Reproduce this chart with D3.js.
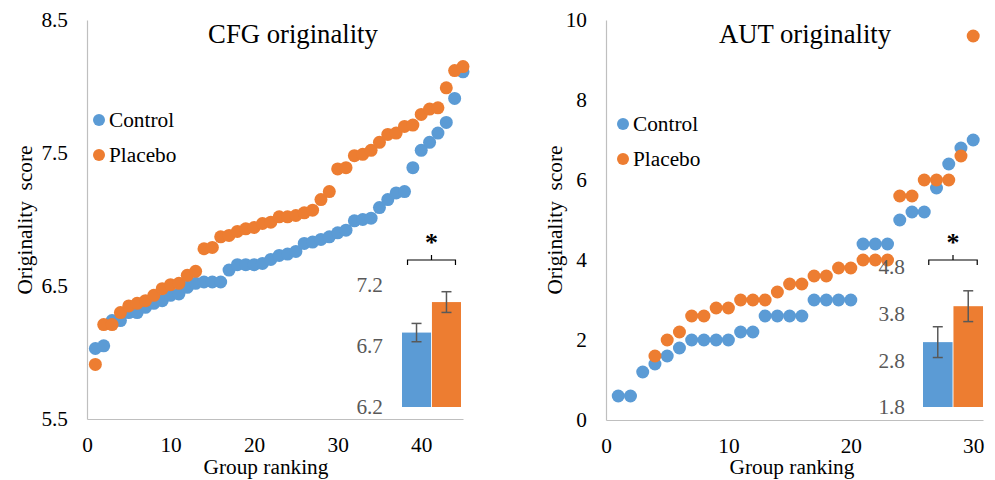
<!DOCTYPE html>
<html>
<head>
<meta charset="utf-8">
<script src="https://cdn.jsdelivr.net/npm/d3@7"></script>
<style>
  body { margin: 0; background: #fff; }
  text { font-family: "Liberation Serif", "Times New Roman", serif; }
</style>
</head>
<body>
<div id="root"></div>
<script>
// ---- data ----
var cfgRanks = [1,2,3,4,5,6,7,8,9,10,11,12,13,14,15,16,17,18,19,20,21,22,23,24,25,
  26,27,28,29,30,31,32,33,34,35,36,37,38,39,40,41,42,43,44,45];
var cfgControl = [6.03,6.05,6.24,6.24,6.30,6.30,6.34,6.37,6.39,6.43,6.44,6.49,6.52,6.53,6.53,
  6.53,6.62,6.66,6.66,6.66,6.67,6.70,6.73,6.74,6.76,6.82,6.83,6.85,6.87,6.90,
  6.92,6.99,7.00,7.01,7.09,7.15,7.20,7.21,7.39,7.52,7.58,7.65,7.73,7.91,8.11];
var cfgPlacebo = [5.91,6.21,6.21,6.30,6.35,6.37,6.39,6.43,6.48,6.51,6.52,6.58,6.61,6.78,6.79,
  6.87,6.88,6.91,6.93,6.94,6.97,6.98,7.02,7.02,7.03,7.05,7.07,7.15,7.21,7.38,
  7.39,7.48,7.49,7.52,7.58,7.64,7.65,7.70,7.71,7.79,7.83,7.84,7.99,8.12,8.15];

var autControlRanks = [1,2,3,4,5,6,7,8,9,10,11,12,13,14,15,16,17,18,19,20,21,22,23,24,25,26,27,28,29,30];
var autControl = [0.6,0.6,1.2,1.4,1.6,1.8,2.0,2.0,2.0,2.0,2.2,2.2,2.6,2.6,2.6,2.6,3.0,3.0,3.0,3.0,
  4.4,4.4,4.4,5.0,5.2,5.2,5.8,6.4,6.8,7.0];
var autPlaceboRanks = [4,5,6,7,8,9,10,11,12,13,14,15,16,17,18,19,20,21,22,23,24,25,26,27,28,29,30];
var autPlacebo = [1.6,2.0,2.2,2.6,2.6,2.8,2.8,3.0,3.0,3.0,3.2,3.4,3.4,3.6,3.6,3.8,3.8,4.0,4.0,4.0,
  5.6,5.6,6.0,6.0,6.0,6.6,9.6];

var groups = ["Control", "Placebo"];
var cfgMeans = [6.81, 7.06];
var cfgErr = [0.075, 0.085];
var autMeans = [3.19, 3.96];
var autErr = [0.33, 0.33];

var cfgYTicks = [5.5, 6.5, 7.5, 8.5];
var cfgXTicks = [0, 10, 20, 30, 40];
var cfgInsetTicks = [6.2, 6.7, 7.2];
var autYTicks = [0, 2, 4, 6, 8, 10];
var autXTicks = [0, 10, 20, 30];
var autInsetTicks = [1.8, 2.8, 3.8, 4.8];

var colors = { Control: "#5B9BD5", Placebo: "#ED7D31" };
var fontSize = "21.3px";

var svg = d3.select("#root")
  .append("svg")
  .attr("width", 995)
  .attr("height", 480);

drawPanel({
  title: "CFG originality", titleX: 293,
  left: 87, right: 463, top: 20, bottom: 419,
  xDomain: [0, 45], yDomain: [5.5, 8.5],
  xTicks: cfgXTicks, yTicks: cfgYTicks, yFormat: d3.format(".1f"),
  yTitleX: 25, xTitleX: 266,
  legendX: 99, legendY: 120,
  series: [
    { name: "Control", x: cfgRanks, y: cfgControl },
    { name: "Placebo", x: cfgRanks, y: cfgPlacebo }
  ],
  inset: { x0: 402, x1: 461, y0: 407, y1: 285, domain: [6.2, 7.2], ticks: cfgInsetTicks,
           labelX: 383, means: cfgMeans, err: cfgErr }
});

drawPanel({
  title: "AUT originality", titleX: 805,
  left: 606, right: 983, top: 20, bottom: 420,
  xDomain: [0, 30.8], yDomain: [0, 10],
  xTicks: autXTicks, yTicks: autYTicks, yFormat: d3.format("d"),
  yTitleX: 555, xTitleX: 792,
  legendX: 623, legendY: 124,
  series: [
    { name: "Control", x: autControlRanks, y: autControl },
    { name: "Placebo", x: autPlaceboRanks, y: autPlacebo }
  ],
  inset: { x0: 923, x1: 983, y0: 407, y1: 267, domain: [1.8, 4.8], ticks: autInsetTicks,
           labelX: 905, means: autMeans, err: autErr }
});

function drawPanel(p)
{
  var x = d3.scaleLinear().domain(p.xDomain).range([p.left, p.right]);
  var y = d3.scaleLinear().domain(p.yDomain).range([p.bottom, p.top]);

  var g = svg.append("g");

  // axes (Excel style: light grey lines, no tick marks)
  var yAxis = g.append("g")
    .attr("transform", "translate(" + p.left + ",0)")
    .call(d3.axisLeft(y).tickValues(p.yTicks).tickSize(0).tickPadding(19).tickFormat(p.yFormat));
  var xAxis = g.append("g")
    .attr("transform", "translate(0," + p.bottom + ")")
    .call(d3.axisBottom(x).tickValues(p.xTicks).tickSize(0).tickPadding(18));
  [yAxis, xAxis].forEach(function (a)
  {
    a.select(".domain").attr("stroke", "#bfbfbf").attr("stroke-width", 1.2);
    a.selectAll("text").attr("fill", "#000").style("font-size", fontSize)
      .style("font-family", "'Liberation Serif', serif");
  });

  // titles
  g.append("text")
    .attr("x", p.titleX).attr("y", 43)
    .style("text-anchor", "middle").style("font-size", "26.7px")
    .text(p.title);

  g.append("text")
    .attr("transform", "rotate(-90)")
    .attr("x", -220).attr("y", p.yTitleX)
    .attr("dy", "0.35em")
    .style("text-anchor", "middle").style("font-size", fontSize)
    .attr("xml:space", "preserve")
    .text("Originality  score");

  g.append("text")
    .attr("x", p.xTitleX).attr("y", 474)
    .style("text-anchor", "middle").style("font-size", fontSize)
    .text("Group ranking");

  // scatter points (placebo drawn on top)
  p.series.forEach(function (s)
  {
    g.append("g").selectAll("circle")
      .data(s.y)
      .join("circle")
      .attr("cx", function (d, i) { return x(s.x[i]); })
      .attr("cy", function (d) { return y(d); })
      .attr("r", 6.5)
      .attr("fill", colors[s.name]);
  });

  // legend
  groups.forEach(function (name, i)
  {
    var ly = p.legendY + i * 35;
    g.append("circle").attr("cx", p.legendX).attr("cy", ly).attr("r", 6).attr("fill", colors[name]);
    g.append("text").attr("x", p.legendX + 10).attr("y", ly)
      .attr("dy", "0.35em").style("font-size", fontSize).text(name);
  });

  // inset bar chart
  var ins = p.inset;
  var bx = d3.scaleBand().domain(groups).range([ins.x0, ins.x1]).paddingInner(0.03);
  var by = d3.scaleLinear().domain(ins.domain).range([ins.y0, ins.y1]);

  var ia = g.append("g")
    .attr("transform", "translate(" + (ins.labelX + 1) + ",0)")
    .call(d3.axisLeft(by).tickValues(ins.ticks).tickSize(0).tickPadding(1).tickFormat(d3.format(".1f")));
  ia.select(".domain").remove();
  ia.selectAll("text").attr("fill", "#595959").style("font-size", fontSize)
    .style("font-family", "'Liberation Serif', serif");

  g.append("g").selectAll("rect")
    .data(ins.means)
    .join("rect")
    .attr("x", function (d, i) { return bx(groups[i]); })
    .attr("y", function (d) { return by(d); })
    .attr("width", bx.bandwidth())
    .attr("height", function (d) { return ins.y0 - by(d); })
    .attr("fill", function (d, i) { return colors[groups[i]]; });

  // error bars
  var eb = g.append("g").attr("stroke", "#595959").attr("stroke-width", 1.5);
  ins.means.forEach(function (m, i)
  {
    var cx = bx(groups[i]) + bx.bandwidth() / 2;
    var lo = by(m - ins.err[i]), hi = by(m + ins.err[i]);
    eb.append("line").attr("x1", cx).attr("x2", cx).attr("y1", lo).attr("y2", hi);
    eb.append("line").attr("x1", cx - 5).attr("x2", cx + 5).attr("y1", lo).attr("y2", lo);
    eb.append("line").attr("x1", cx - 5).attr("x2", cx + 5).attr("y1", hi).attr("y2", hi);
  });

  // significance bracket
  var c0 = bx(groups[0]) + bx.bandwidth() / 2 - 5;
  var c1 = bx(groups[1]) + bx.bandwidth() / 2 + 5;
  var mid = (c0 + c1) / 2;
  g.append("path")
    .attr("d", "M" + (c0 - 4) + ",265V260H" + (c1 + 4) + "V265M" + mid + ",260V255")
    .attr("fill", "none").attr("stroke", "#000").attr("stroke-width", 1.2);
  g.append("text")
    .attr("x", mid).attr("y", 251)
    .style("text-anchor", "middle").style("font-size", "26px").style("font-weight", "bold")
    .text("*");
}
</script>
</body>
</html>
